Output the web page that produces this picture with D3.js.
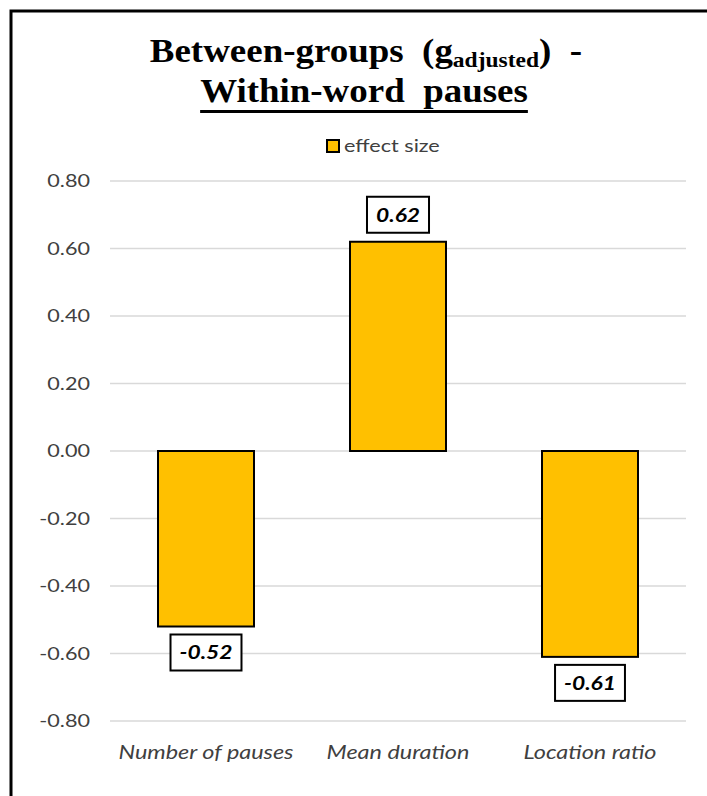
<!DOCTYPE html>
<html>
<head>
<meta charset="utf-8">
<script src="https://cdn.jsdelivr.net/npm/d3@7"></script>
<style>
  html, body { margin: 0; padding: 0; background: #fff; }
  svg { display: block; }
</style>
</head>
<body>
<svg id="chart" width="707" height="796"></svg>
<script>
// Effect sizes (Hedges' g, adjusted) for within-word pause measures
const categories = ["Number of pauses", "Mean duration", "Location ratio"];
const effectSize = [-0.52, 0.62, -0.61];
const yTicks = [0.8, 0.6, 0.4, 0.2, 0, -0.2, -0.4, -0.6, -0.8];
const seriesName = "effect size";

const svg = d3.select("#chart");
const W = 707, H = 796;
const sansFont = "Lato, 'Open Sans', sans-serif";
const serifFont = "'Liberation Serif', 'Times New Roman', serif";
const barFill = "#FFC000";
const textGrey = "#404040";
const stretch = 1.2;            // horizontal widening of the sans-serif labels
const fmt = d => d3.format(".2f")(d).replace("\u2212", "-");

// outer chart frame
svg.append("rect")
  .attr("x", 11).attr("y", 11)
  .attr("width", W + 20).attr("height", H + 20)
  .attr("fill", "#fff").attr("stroke", "#000").attr("stroke-width", 3);

// title
const title = svg.append("g").attr("font-family", serifFont).attr("font-weight", "bold")
  .attr("text-anchor", "middle").attr("fill", "#000");
const t1 = title.append("text").attr("transform", "translate(366,62) scale(1.12,1)").attr("font-size", 33);
t1.append("tspan").text("Between-groups\u00A0\u00A0(g");
t1.append("tspan").attr("font-size", 21).attr("dy", 5).text("adjusted");
t1.append("tspan").attr("dy", -5).text(")\u00A0\u00A0-");
const t2 = title.append("text").attr("transform", "translate(364,102) scale(1.12,1)").attr("font-size", 33)
  .text("Within-word\u00A0\u00A0pauses");
const t2w = t2.node().getBBox().width * 1.12;
title.append("rect")
  .attr("x", 364 - t2w / 2).attr("y", 110)
  .attr("width", t2w).attr("height", 3).attr("fill", "#000");

// scales
const x = d3.scaleBand().domain(categories).range([110, 686]).paddingInner(0.5).paddingOuter(0.25);
const y = d3.scaleLinear().domain([-0.8, 0.8]).range([721, 181]);

// gridlines
svg.append("g")
  .selectAll("line").data(yTicks).join("line")
  .attr("x1", 110).attr("x2", 686)
  .attr("y1", d => y(d)).attr("y2", d => y(d))
  .attr("stroke", "#d9d9d9").attr("stroke-width", 1.5);

// y axis labels
const yAxis = svg.append("g").attr("transform", "translate(90,0)")
  .call(d3.axisLeft(y).tickValues(yTicks).tickFormat(fmt).tickSize(0).tickPadding(0));
yAxis.select(".domain").remove();
yAxis.selectAll(".tick text")
  .attr("x", 0)
  .attr("transform", `scale(${stretch},1)`)
  .attr("font-family", sansFont).attr("font-size", 18).attr("fill", textGrey);

// bars
svg.append("g")
  .selectAll("rect").data(effectSize).join("rect")
  .attr("x", (d, i) => x(categories[i]))
  .attr("width", x.bandwidth())
  .attr("y", d => y(Math.max(0, d)))
  .attr("height", d => Math.abs(y(d) - y(0)))
  .attr("fill", barFill).attr("stroke", "#000").attr("stroke-width", 2);

// value labels in boxes
const labels = svg.append("g").selectAll("g").data(effectSize).join("g")
  .attr("transform", (d, i) => {
    const cx = x(categories[i]) + x.bandwidth() / 2;
    const cy = d >= 0 ? y(d) - 27 : y(d) + 26;
    return `translate(${cx},${cy})`;
  });
labels.append("text")
  .attr("text-anchor", "middle").attr("dy", "0.36em")
  .attr("transform", `scale(${stretch},1)`)
  .attr("font-family", sansFont).attr("font-size", 19)
  .attr("font-weight", "bold").attr("font-style", "italic").attr("fill", "#000")
  .text(fmt);
labels.each(function () {
  const g = d3.select(this);
  const w = g.select("text").node().getBBox().width * stretch;
  g.insert("rect", "text")
    .attr("x", -w / 2 - 9).attr("y", -18)
    .attr("width", w + 18).attr("height", 36)
    .attr("fill", "#fff").attr("stroke", "#000").attr("stroke-width", 2);
});

// category labels
svg.append("g").selectAll("text").data(categories).join("text")
  .attr("transform", d => `translate(${x(d) + x.bandwidth() / 2},759) scale(${stretch},1)`)
  .attr("text-anchor", "middle")
  .attr("font-family", sansFont).attr("font-size", 19.5).attr("font-style", "italic")
  .attr("fill", textGrey)
  .text(d => d);

// legend
const legend = svg.append("g").attr("transform", "translate(327,140)");
legend.append("rect").attr("width", 12).attr("height", 12)
  .attr("fill", barFill).attr("stroke", "#000").attr("stroke-width", 2);
legend.append("text").attr("transform", `translate(17,6) scale(${stretch},1)`).attr("dy", "0.35em")
  .attr("font-family", sansFont).attr("font-size", 18).attr("fill", textGrey)
  .text(seriesName);
</script>
</body>
</html>
